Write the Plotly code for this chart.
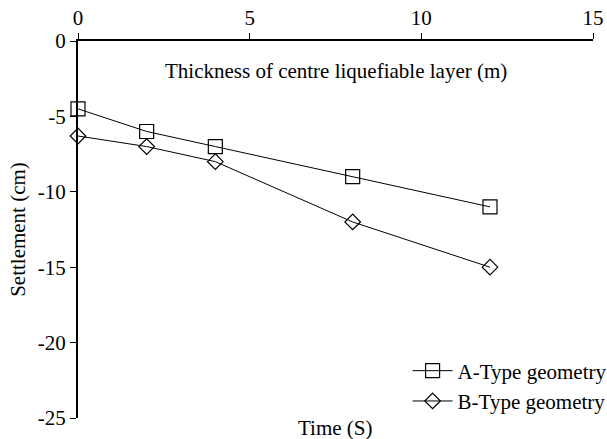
import plotly.graph_objects as go

x_vals = [0, 2, 4, 8, 12]
a_type = [-4.5, -6.0, -7.0, -9.0, -11.0]
b_type = [-6.3, -7.0, -8.0, -12.0, -15.0]
x_ticks = [0, 5, 10, 15]
y_ticks = [0, -5, -10, -15, -20, -25]
y_ticktext = ["0", "-5", "-10", "-15", "-20", "-25"]

FONT = "Liberation Serif"
FS = 21
fig = go.Figure()
fig.add_trace(go.Scatter(x=x_vals, y=a_type, mode="lines+markers", name="A-Type geometry",
                         line=dict(color="black", width=1),
                         marker=dict(symbol="square-open", size=14, color="black", line=dict(width=1.2)),
                         cliponaxis=False))
fig.add_trace(go.Scatter(x=x_vals, y=b_type, mode="lines+markers", name="B-Type geometry",
                         line=dict(color="black", width=1),
                         marker=dict(symbol="diamond-open", size=12, color="black", line=dict(width=1.2)),
                         cliponaxis=False))

fig.update_layout(
    width=607, height=439,
    margin=dict(l=78, r=14, t=41, b=21, autoexpand=False),
    paper_bgcolor="white", plot_bgcolor="white",
    font=dict(family=FONT, size=FS, color="black"),
    xaxis=dict(side="top", range=[0, 15], tickvals=x_ticks, showgrid=False, zeroline=False,
               showline=True, linecolor="black", linewidth=2, ticks="outside", ticklen=6,
               tickcolor="black", tickfont=dict(size=FS)),
    yaxis=dict(range=[-25, 0], tickvals=y_ticks, ticktext=y_ticktext, showgrid=False, zeroline=False,
               showline=True, linecolor="black", linewidth=2, ticks="outside", ticklen=6,
               tickcolor="black", tickfont=dict(size=FS),
               title=dict(text="Settlement (cm)", font=dict(size=FS), standoff=6)),
    legend=dict(x=0.64, xanchor="left", y=0.179, yanchor="top", bgcolor="rgba(0,0,0,0)",
                font=dict(size=FS), tracegroupgap=11, itemwidth=40),
    showlegend=True,
)
fig.add_annotation(text="Thickness of centre liquefiable layer (m)", xref="paper", yref="paper",
                   x=0.5, y=0.92, yanchor="middle", showarrow=False, font=dict(size=FS))
fig.add_annotation(text="Time (S)", xref="paper", yref="paper",
                   x=0.5, y=-0.027, yanchor="middle", showarrow=False, font=dict(size=FS))
fig.write_html("out.html")
